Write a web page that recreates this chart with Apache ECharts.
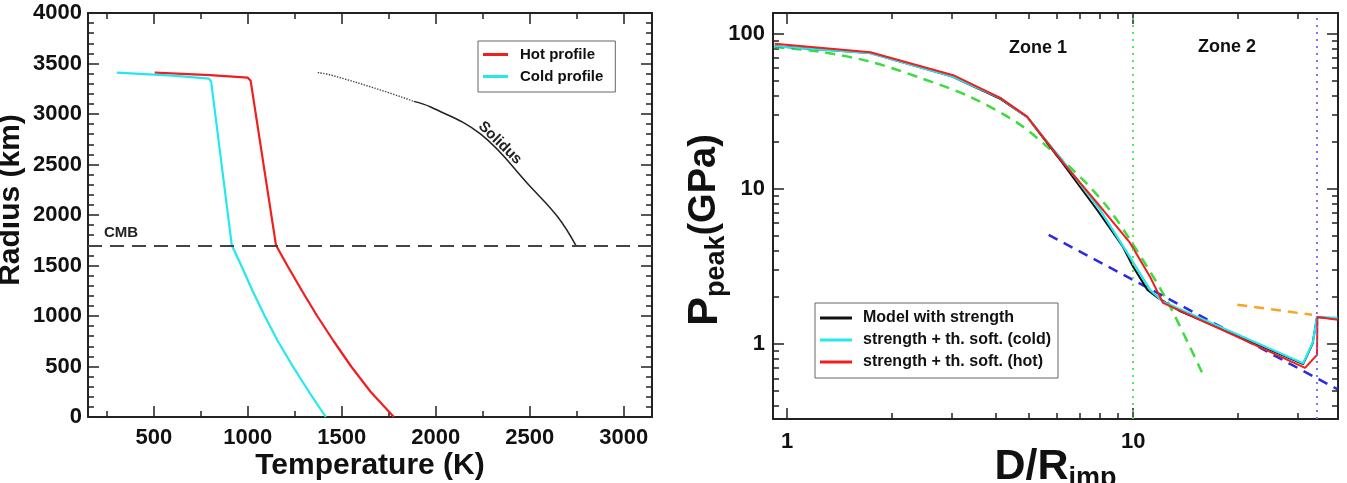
<!DOCTYPE html>
<html>
<head>
<meta charset="utf-8">
<title>Temperature profiles and peak pressure</title>
<script src="https://cdn.jsdelivr.net/npm/echarts@6.0.0/dist/echarts.min.js"></script>
<style>
  html, body { margin: 0; padding: 0; background: #fff; }
  #chart { width: 1347px; height: 483px; }
</style>
</head>
<body>
<div id="chart"></div>
<script>
// left panel: temperature (K) against radius (km)
var hotT = [505, 800, 1000, 1015, 1150, 1210, 1288, 1369, 1457, 1550, 1653, 1777];
var hotR = [3410, 3385, 3360, 3330, 1700, 1500, 1250, 1000, 750, 500, 250, 0];
var coldT = [303, 600, 793, 805, 915, 965, 1025, 1090, 1160, 1240, 1325, 1415];
var coldR = [3410, 3380, 3350, 3320, 1700, 1500, 1250, 1000, 750, 500, 250, 0];
var solidusDotT = [1372, 1441, 1707, 1883];
var solidusDotR = [3410, 3386, 3237, 3125];
var solidusT = [1883, 1973, 2239, 2505, 2649, 2745];
var solidusR = [3125, 3069, 2800, 2277, 1980, 1700];
var cmbRadius = 1700;
var tempTicks = [500, 1000, 1500, 2000, 2500, 3000];
var tempMinorTicks = [250, 750, 1250, 1750, 2250, 2750];

// right panel: D/Rimp against peak pressure (GPa)
var modelD = [0.92, 1.74, 3.0, 4.13, 4.94, 6.2, 7.87, 9.35, 10.0, 11.0, 11.8, 13.7, 31.0, 33.0, 34.0, 39.0];
var modelP = [83, 75, 53, 38, 29, 15, 7.3, 4.22, 3.14, 2.23, 1.98, 1.62, 0.74, 1.0, 1.49, 1.45];
var coldD = [0.92, 1.74, 3.0, 4.13, 4.94, 6.28, 8.0, 9.5, 11.2, 12.2, 31.0, 33.1, 34.0, 39.0];
var coldP = [83, 75, 53, 38.5, 29, 15, 7.4, 4.04, 2.23, 1.87, 0.75, 1.03, 1.49, 1.47];
var hotD = [0.92, 1.74, 3.02, 4.13, 4.94, 6.28, 8.19, 9.8, 11.2, 12.2, 31.4, 34.0, 34.1, 39.0];
var hotP = [86, 76, 54, 38.6, 29.2, 14.7, 7.3, 4.48, 2.7, 1.84, 0.70, 0.85, 1.49, 1.43];
var fitD = [0.92, 1.25, 1.74, 2.42, 3.38, 4.62, 5.64, 7.17, 8.41, 9.8, 12.5, 16.1];
var fitP = [82, 76.5, 66, 52, 39.2, 26.7, 18.7, 11.4, 7.66, 4.69, 1.92, 0.60];
var powerD = [5.7, 39];
var powerP = [5.05, 0.51];
var zone2D = [20, 32.9];
var zone2P = [1.79, 1.54];
var zoneBoundary = 10;
var secondBoundary = 34;
var distTicks = [1, 10];
var distMinorTicks = [2, 3, 4, 5, 6, 7, 8, 9, 20, 30];
var pressTicks = [1, 10, 100];
var pressMinorTicks = [0.4, 0.5, 0.6, 0.7, 0.8, 0.9, 2, 3, 4, 5, 6, 7, 8, 9, 20, 30, 40, 50, 60, 70, 80, 90];

var font = 'Liberation Sans, Arial, Helvetica, sans-serif';
var ink = '#222';

function pairs(xs, ys) {
  return xs.map(function (x, i) { return [x, ys[i]]; });
}

// one axis of the frame; major axes carry the line, minor ones only short ticks
function frameAxis(opt) {
  var major = opt.minor !== true;
  var axis = {
    type: opt.type || 'value',
    gridIndex: opt.grid,
    position: opt.position,
    min: opt.min,
    max: opt.max,
    silent: true,
    axisLine: { show: major, onZero: false, lineStyle: { color: ink, width: 2 } },
    axisTick: {
      show: true, inside: true, length: major ? 11 : 6,
      lineStyle: { color: ink, width: 1.5 }
    },
    axisLabel: { show: false },
    splitLine: { show: false }
  };
  if (opt.ticks) axis.axisTick.customValues = opt.ticks;
  if (opt.interval) axis.interval = opt.interval;
  if (opt.minorSplit) {
    axis.minorTick = { show: true, splitNumber: opt.minorSplit, length: 6, lineStyle: { color: ink, width: 1.5 } };
  }
  if (opt.labels) {
    axis.axisLabel = {
      show: true, fontSize: 22, fontWeight: 'bold', color: '#111', fontFamily: font,
      margin: opt.labelMargin || 8,
      formatter: function (v) { return String(v); }
    };
    if (opt.labels !== true) axis.axisLabel.customValues = opt.labels;
  }
  if (opt.name) {
    axis.name = opt.name;
    axis.nameLocation = 'middle';
    axis.nameGap = opt.nameGap;
    axis.nameMoveOverlap = false;
    axis.nameTextStyle = Object.assign({ fontSize: 30, fontWeight: 'bold', color: '#111', fontFamily: font }, opt.nameStyle || {});
  }
  return axis;
}

// big letters with a lowered subscript, for the right panel's axis names
var subRich = {
  big: { fontSize: 43, fontWeight: 'bold', color: '#111', fontFamily: font, lineHeight: 50, verticalAlign: 'middle' },
  sub: { fontSize: 27, fontWeight: 'bold', color: '#111', fontFamily: font, lineHeight: 27, verticalAlign: 'bottom' },
  mid: { fontSize: 38, fontWeight: 'bold', color: '#111', fontFamily: font, lineHeight: 50, verticalAlign: 'middle' }
};

var legendBase = {
  orient: 'vertical',
  borderColor: '#666',
  borderWidth: 1,
  backgroundColor: '#fff',
  icon: 'rect',
  itemHeight: 3,
  selectedMode: false
};

var myChart = echarts.init(document.getElementById('chart'));
var option = {
  animation: false,
  backgroundColor: '#fff',
  grid: [
    { left: 88, top: 13, width: 564, height: 404, outerBoundsMode: 'none' },
    { left: 773, top: 13, width: 565, height: 406, outerBoundsMode: 'none' }
  ],
  legend: [
    Object.assign({}, legendBase, {
      data: ['Hot profile', 'Cold profile'],
      left: 478, top: 41, padding: [6, 12, 8, 5], itemGap: 7, itemWidth: 25,
      textStyle: { fontSize: 15, lineHeight: 15, fontWeight: 'bold', color: '#111', fontFamily: font, padding: [0, 0, 0, 7] }
    }),
    Object.assign({}, legendBase, {
      data: ['Model with strength', 'strength + th. soft. (cold)', 'strength + th. soft. (hot)'],
      left: 815, top: 303, padding: [7, 7, 8, 5], itemGap: 6, itemWidth: 32,
      textStyle: { fontSize: 16, lineHeight: 16, fontWeight: 'bold', color: '#111', fontFamily: font, padding: [0, 0, 0, 6] }
    })
  ],
  xAxis: [
    frameAxis({ grid: 0, position: 'bottom', min: 150, max: 3150, ticks: tempTicks, labels: tempTicks, labelMargin: 10,
      name: 'Temperature (K)', nameGap: 34 }),
    frameAxis({ grid: 0, position: 'bottom', min: 150, max: 3150, ticks: tempMinorTicks, minor: true }),
    frameAxis({ grid: 0, position: 'top', min: 150, max: 3150, ticks: tempTicks }),
    frameAxis({ grid: 0, position: 'top', min: 150, max: 3150, ticks: tempMinorTicks, minor: true }),
    frameAxis({ grid: 1, type: 'log', position: 'bottom', min: 0.91, max: 39.1, ticks: distTicks, labels: distTicks, labelMargin: 12,
      name: '{big|D/R}{sub|imp}', nameGap: 23, nameStyle: { rich: subRich } }),
    frameAxis({ grid: 1, type: 'log', position: 'bottom', min: 0.91, max: 39.1, ticks: distMinorTicks, minor: true }),
    frameAxis({ grid: 1, type: 'log', position: 'top', min: 0.91, max: 39.1, ticks: distTicks }),
    frameAxis({ grid: 1, type: 'log', position: 'top', min: 0.91, max: 39.1, ticks: distMinorTicks, minor: true })
  ],
  yAxis: [
    frameAxis({ grid: 0, position: 'left', min: 0, max: 4000, interval: 500, minorSplit: 5, labels: true, labelMargin: 6,
      name: 'Radius (km)', nameGap: 62, nameStyle: { padding: [0, 0, 0, 30] } }),
    frameAxis({ grid: 0, position: 'right', min: 0, max: 4000, interval: 500, minorSplit: 5 }),
    frameAxis({ grid: 1, type: 'log', position: 'left', min: 0.328, max: 136, ticks: pressTicks, labels: pressTicks, labelMargin: 8,
      name: '{big|P}{sub|peak}{mid|(GPa)}', nameGap: 43, nameStyle: { rich: subRich, padding: [0, 28, 0, 0] } }),
    frameAxis({ grid: 1, type: 'log', position: 'left', min: 0.328, max: 136, ticks: pressMinorTicks, minor: true }),
    frameAxis({ grid: 1, type: 'log', position: 'right', min: 0.328, max: 136, ticks: pressTicks }),
    frameAxis({ grid: 1, type: 'log', position: 'right', min: 0.328, max: 136, ticks: pressMinorTicks, minor: true })
  ],
  series: [
    {
      name: 'Solidus (low)', type: 'line', xAxisIndex: 0, yAxisIndex: 0, symbol: 'none', silent: true, smooth: 0.4,
      lineStyle: { color: '#444', width: 1.4, type: 'dotted' },
      data: pairs(solidusDotT, solidusDotR)
    },
    {
      name: 'Solidus', type: 'line', xAxisIndex: 0, yAxisIndex: 0, symbol: 'none', silent: true, smooth: 0.4,
      lineStyle: { color: '#222', width: 1.5 },
      data: pairs(solidusT, solidusR),
      markLine: {
        silent: true, symbol: 'none',
        lineStyle: { color: '#444', width: 2, type: [14, 8] },
        label: {
          show: true, position: 'insideStartTop', formatter: 'CMB', padding: [0, 0, 0, 11],
          fontSize: 15, fontWeight: 'bold', color: '#222', fontFamily: font
        },
        data: [{ yAxis: cmbRadius }]
      }
    },
    {
      name: 'Hot profile', type: 'line', xAxisIndex: 0, yAxisIndex: 0, symbol: 'none', silent: true,
      color: '#f21d1d', lineStyle: { width: 2.2 },
      data: pairs(hotT, hotR)
    },
    {
      name: 'Cold profile', type: 'line', xAxisIndex: 0, yAxisIndex: 0, symbol: 'none', silent: true,
      color: '#25e8ee', lineStyle: { width: 2.2 },
      data: pairs(coldT, coldR)
    },
    {
      name: 'zone 1 fit', type: 'line', xAxisIndex: 4, yAxisIndex: 2, symbol: 'none', silent: true, smooth: 0.3,
      lineStyle: { color: '#3ddc3d', width: 2.5, type: [10, 7] },
      data: pairs(fitD, fitP),
      markLine: {
        silent: true, symbol: 'none', label: { show: false },
        lineStyle: { color: '#4ee44e', width: 1.8, type: [2, 5] },
        data: [{ xAxis: zoneBoundary }]
      }
    },
    {
      name: 'power law', type: 'line', xAxisIndex: 4, yAxisIndex: 2, symbol: 'none', silent: true,
      lineStyle: { color: '#2b2be0', width: 2.5, type: [10, 7] },
      data: pairs(powerD, powerP),
      markLine: {
        silent: true, symbol: 'none', label: { show: false },
        lineStyle: { color: '#6a6af0', width: 1.8, type: [2, 5] },
        data: [{ xAxis: secondBoundary }]
      }
    },
    {
      name: 'zone 2 fit', type: 'line', xAxisIndex: 4, yAxisIndex: 2, symbol: 'none', silent: true,
      lineStyle: { color: '#f5a623', width: 2.5, type: [10, 7] },
      data: pairs(zone2D, zone2P)
    },
    {
      name: 'Model with strength', type: 'line', xAxisIndex: 4, yAxisIndex: 2, symbol: 'none', silent: true,
      color: '#111', lineStyle: { width: 2 },
      data: pairs(modelD, modelP)
    },
    {
      name: 'strength + th. soft. (cold)', type: 'line', xAxisIndex: 4, yAxisIndex: 2, symbol: 'none', silent: true,
      color: '#25e8ee', lineStyle: { width: 2.2 },
      data: pairs(coldD, coldP)
    },
    {
      name: 'strength + th. soft. (hot)', type: 'line', xAxisIndex: 4, yAxisIndex: 2, symbol: 'none', silent: true,
      color: '#f21d1d', lineStyle: { width: 2 },
      data: pairs(hotD, hotP)
    }
  ],
  graphic: [
    {
      type: 'text', x: 500, y: 143, rotation: -0.77, silent: true,
      style: { text: 'Solidus', font: 'bold 15px ' + font, fill: '#222', align: 'center', verticalAlign: 'middle', textAlign: 'center', textVerticalAlign: 'middle' }
    },
    {
      type: 'text', x: 1038, y: 48, silent: true,
      style: { text: 'Zone 1', font: 'bold 18px ' + font, fill: '#111', align: 'center', verticalAlign: 'middle', textAlign: 'center', textVerticalAlign: 'middle' }
    },
    {
      type: 'text', x: 1227, y: 47, silent: true,
      style: { text: 'Zone 2', font: 'bold 18px ' + font, fill: '#111', align: 'center', verticalAlign: 'middle', textAlign: 'center', textVerticalAlign: 'middle' }
    }
  ]
};

myChart.setOption(option);
</script>
</body>
</html>
